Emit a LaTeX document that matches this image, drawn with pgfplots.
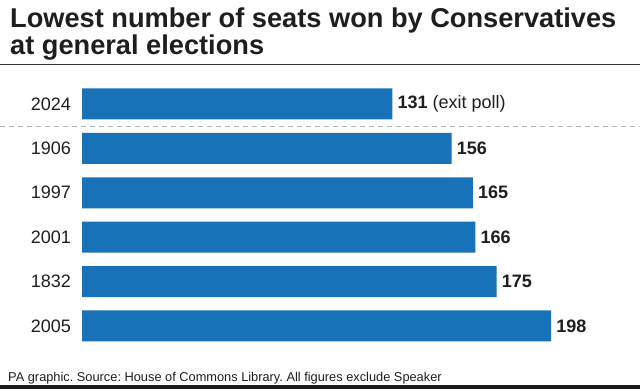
\documentclass[border=0pt]{standalone}
\usepackage{pgfplots}
\pgfplotsset{compat=1.18}
\usepackage{fontspec}
\setmainfont{Liberation Sans}
\definecolor{barblue}{RGB}{24,114,184}
\definecolor{txt}{RGB}{30,30,30}
\frenchspacing
\begin{document}
\begin{tikzpicture}
\useasboundingbox (0pt,0pt) rectangle (640pt,389pt);
\fill[white] (0pt,0pt) rectangle (640pt,389pt);
\node[anchor=base west, inner sep=0, text=txt, font=\bfseries\fontsize{27.2}{28}\selectfont] at (10pt,361pt) {Lowest number of seats won by Conservatives};
\node[anchor=base west, inner sep=0, text=txt, font=\bfseries\fontsize{27.2}{28}\selectfont] at (10pt,334pt) {at general elections};
\draw[black!80, line width=1pt] (0pt,324.5pt) -- (640pt,324.5pt);
\draw[black!30, line width=0.8pt, dash pattern=on 5pt off 4pt] (0pt,262.5pt) -- (640pt,262.5pt);
\fill[black!90] (0pt,0pt) rectangle (640pt,4pt);
\node[anchor=base west, inner sep=0, text=txt, font=\fontsize{12.8}{14}\selectfont] at (8pt,8pt) {PA graphic. Source: House of Commons Library. All figures exclude Speaker};
\begin{axis}[
  at={(82pt,307.2pt)}, anchor=north west,
  scale only axis, width=558pt, height=266.4pt,
  xmin=0, xmax=235.5, ymin=-0.5, ymax=5.5,
  xbar, bar width=31pt,
  axis line style={draw=none},
  major tick length=0pt,
  xtick=\empty,
  ytick={0,1,2,3,4,5},
  yticklabels={2005,1832,2001,1997,1906,2024},
  yticklabel style={font=\fontsize{18}{18}\selectfont, text=txt, inner sep=0pt, xshift=-11pt},
  /pgf/number format/assume math mode=true,
  clip=false,
  nodes near coords,
  point meta=explicit symbolic,
  nodes near coords style={anchor=west, inner sep=0pt, xshift=5pt, font=\fontsize{18}{18}\selectfont, text=txt},
]
\addplot[fill=barblue, draw=none] coordinates {
  (131,5) [\textbf{131} (exit poll)]
  (156,4) [\textbf{156}]
  (165,3) [\textbf{165}]
  (166,2) [\textbf{166}]
  (175,1) [\textbf{175}]
  (198,0) [\textbf{198}]
};
\end{axis}
\end{tikzpicture}
\end{document}
